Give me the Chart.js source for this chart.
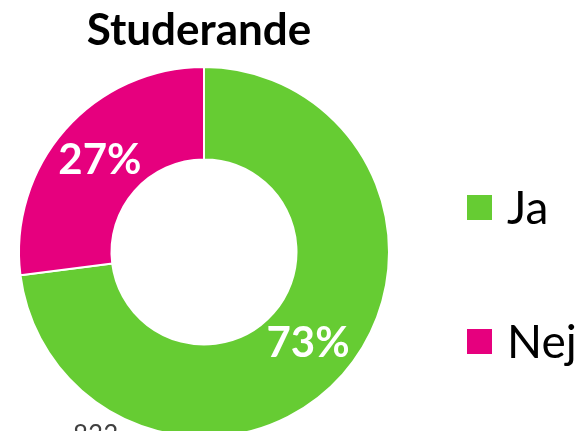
<!DOCTYPE html>
<html>
<head>
<meta charset="utf-8">
<script src="https://cdn.jsdelivr.net/npm/chart.js@4/dist/chart.umd.min.js"></script>
<style>
  html, body { margin: 0; padding: 0; background: #fff; overflow: hidden; }
  #wrap { position: relative; width: 580px; height: 440px; }
</style>
</head>
<body>
<div id="wrap"><canvas id="pieChart"></canvas></div>
<script>
const chartTitle = 'Studerande';
const categories = ['Ja', 'Nej'];
const shares = [73, 27];
const colors = ['#66CC33', '#E6007E'];
const footNote = '833';

const FONT = 'Lato, "Open Sans", sans-serif';

// title, legend, slice labels and the cut-off note are drawn by hand
const extras = {
    id: 'extras',
    afterDraw(chart) {
        const ctx = chart.ctx;
        ctx.save();

        // title
        ctx.fillStyle = '#000';
        ctx.font = 'bold 44px ' + FONT;
        ctx.textAlign = 'center';
        ctx.textBaseline = 'alphabetic';
        ctx.fillText(chartTitle, 199, 45);

        // percentage labels in the middle of each ring segment
        ctx.fillStyle = '#fff';
        ctx.font = 'bold 42px ' + FONT;
        ctx.textBaseline = 'middle';
        chart.getDatasetMeta(0).data.forEach((arc, i) => {
            const p = arc.tooltipPosition();
            ctx.fillText(shares[i] + '%', p.x, p.y);
        });

        // legend
        ctx.textAlign = 'left';
        ctx.font = '46px ' + FONT;
        categories.forEach((label, i) => {
            const y = 195 + i * 134;
            ctx.fillStyle = colors[i];
            ctx.fillRect(467, y, 25, 25);
            ctx.fillStyle = '#000';
            ctx.fillText(label, 507, y + 14);
        });

        // note at the bottom, mostly outside the picture
        ctx.fillStyle = '#404040';
        ctx.font = '26px ' + FONT;
        ctx.textBaseline = 'alphabetic';
        ctx.fillText(footNote, 73, 444);

        ctx.restore();
    }
};

new Chart(document.getElementById('pieChart'), {
    type: 'doughnut',
    data: {
        labels: categories,
        datasets: [{
            data: shares,
            backgroundColor: colors,
            borderColor: '#fff',
            borderWidth: 2
        }]
    },
    options: {
        responsive: true,
        maintainAspectRatio: false,
        animation: false,
        cutout: '50%',
        layout: { padding: { top: 66, left: 18, right: 190, bottom: 2 } },
        plugins: {
            legend: { display: false },
            tooltip: { enabled: false },
            title: { display: false }
        }
    },
    plugins: [extras]
});
</script>
</body>
</html>
